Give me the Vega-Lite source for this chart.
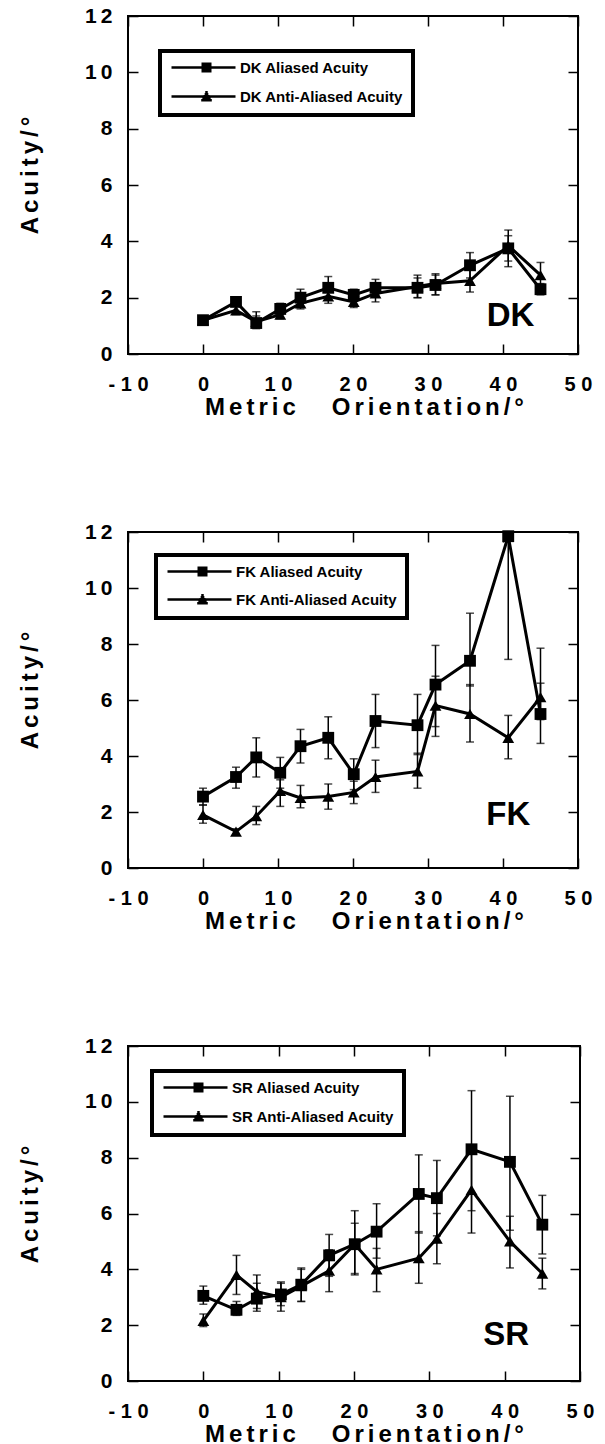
{
  "$schema": "https://vega.github.io/schema/vega-lite/v6.json",
  "padding": {"left": 17, "top": 4, "right": 5, "bottom": 0},
  "background": "white",
  "config": {
    "font": "Liberation Sans",
    "view": {"stroke": "black", "strokeWidth": 2},
    "axis": {"labelColor": "black", "titleColor": "black", "tickColor": "black", "grid": false},
    "legend": {"strokeWidth": 4, "strokeColor": "black"}
  },
  "datasets": {
    "DK": [
      {"series": "DK Aliased Acuity", "orientation": 0, "acuity": 1.2, "lo": 1.1, "hi": 1.3},
      {"series": "DK Aliased Acuity", "orientation": 4.4, "acuity": 1.85, "lo": 1.7, "hi": 2.0},
      {"series": "DK Aliased Acuity", "orientation": 7.1, "acuity": 1.1, "lo": 0.9, "hi": 1.5},
      {"series": "DK Aliased Acuity", "orientation": 10.3, "acuity": 1.6, "lo": 1.4, "hi": 1.8},
      {"series": "DK Aliased Acuity", "orientation": 13.0, "acuity": 2.0, "lo": 1.8, "hi": 2.3},
      {"series": "DK Aliased Acuity", "orientation": 16.7, "acuity": 2.35, "lo": 2.0, "hi": 2.75},
      {"series": "DK Aliased Acuity", "orientation": 20.1, "acuity": 2.1, "lo": 1.9, "hi": 2.3},
      {"series": "DK Aliased Acuity", "orientation": 23.0, "acuity": 2.35, "lo": 2.1, "hi": 2.65},
      {"series": "DK Aliased Acuity", "orientation": 28.6, "acuity": 2.35, "lo": 2.0, "hi": 2.8},
      {"series": "DK Aliased Acuity", "orientation": 31.0, "acuity": 2.45, "lo": 2.1, "hi": 2.85},
      {"series": "DK Aliased Acuity", "orientation": 35.6, "acuity": 3.15, "lo": 2.7, "hi": 3.6},
      {"series": "DK Aliased Acuity", "orientation": 40.7, "acuity": 3.75, "lo": 3.3, "hi": 4.4},
      {"series": "DK Aliased Acuity", "orientation": 45.0, "acuity": 2.3, "lo": 2.1, "hi": 2.5},
      {"series": "DK Anti-Aliased Acuity", "orientation": 0, "acuity": 1.2, "lo": 1.1, "hi": 1.3},
      {"series": "DK Anti-Aliased Acuity", "orientation": 4.4, "acuity": 1.55, "lo": 1.4, "hi": 1.7},
      {"series": "DK Anti-Aliased Acuity", "orientation": 7.1, "acuity": 1.15, "lo": 1.0, "hi": 1.35},
      {"series": "DK Anti-Aliased Acuity", "orientation": 10.3, "acuity": 1.4, "lo": 1.25, "hi": 1.6},
      {"series": "DK Anti-Aliased Acuity", "orientation": 13.0, "acuity": 1.8, "lo": 1.6, "hi": 2.0},
      {"series": "DK Anti-Aliased Acuity", "orientation": 16.7, "acuity": 2.05, "lo": 1.8, "hi": 2.35},
      {"series": "DK Anti-Aliased Acuity", "orientation": 20.1, "acuity": 1.85, "lo": 1.65, "hi": 2.05},
      {"series": "DK Anti-Aliased Acuity", "orientation": 23.0, "acuity": 2.15, "lo": 1.85, "hi": 2.5},
      {"series": "DK Anti-Aliased Acuity", "orientation": 28.6, "acuity": 2.4, "lo": 2.0, "hi": 2.7},
      {"series": "DK Anti-Aliased Acuity", "orientation": 31.0, "acuity": 2.5, "lo": 2.1, "hi": 2.8},
      {"series": "DK Anti-Aliased Acuity", "orientation": 35.6, "acuity": 2.6, "lo": 2.2, "hi": 3.0},
      {"series": "DK Anti-Aliased Acuity", "orientation": 40.7, "acuity": 3.85, "lo": 3.1, "hi": 4.2},
      {"series": "DK Anti-Aliased Acuity", "orientation": 45.0, "acuity": 2.8, "lo": 2.4, "hi": 3.25}
    ],
    "FK": [
      {"series": "FK Aliased Acuity", "orientation": 0, "acuity": 2.55, "lo": 2.25, "hi": 2.85},
      {"series": "FK Aliased Acuity", "orientation": 4.4, "acuity": 3.25, "lo": 2.85, "hi": 3.6},
      {"series": "FK Aliased Acuity", "orientation": 7.1, "acuity": 3.95, "lo": 3.25, "hi": 4.65},
      {"series": "FK Aliased Acuity", "orientation": 10.3, "acuity": 3.4, "lo": 2.85, "hi": 3.95},
      {"series": "FK Aliased Acuity", "orientation": 13.0, "acuity": 4.35, "lo": 3.75, "hi": 4.95},
      {"series": "FK Aliased Acuity", "orientation": 16.7, "acuity": 4.65, "lo": 3.9, "hi": 5.4},
      {"series": "FK Aliased Acuity", "orientation": 20.1, "acuity": 3.35, "lo": 2.8, "hi": 3.9},
      {"series": "FK Aliased Acuity", "orientation": 23.0, "acuity": 5.25, "lo": 4.3, "hi": 6.2},
      {"series": "FK Aliased Acuity", "orientation": 28.6, "acuity": 5.1, "lo": 4.05, "hi": 6.2},
      {"series": "FK Aliased Acuity", "orientation": 31.0, "acuity": 6.55, "lo": 4.7, "hi": 7.95},
      {"series": "FK Aliased Acuity", "orientation": 35.6, "acuity": 7.4, "lo": 6.5, "hi": 9.1},
      {"series": "FK Aliased Acuity", "orientation": 40.7, "acuity": 11.85, "lo": 7.45, "hi": 12.0},
      {"series": "FK Aliased Acuity", "orientation": 45.0, "acuity": 5.5, "lo": 4.45, "hi": 6.6},
      {"series": "FK Anti-Aliased Acuity", "orientation": 0, "acuity": 1.9, "lo": 1.6, "hi": 2.25},
      {"series": "FK Anti-Aliased Acuity", "orientation": 4.4, "acuity": 1.3, "lo": 1.2, "hi": 1.4},
      {"series": "FK Anti-Aliased Acuity", "orientation": 7.1, "acuity": 1.85, "lo": 1.55, "hi": 2.2},
      {"series": "FK Anti-Aliased Acuity", "orientation": 10.3, "acuity": 2.75, "lo": 2.2, "hi": 3.15},
      {"series": "FK Anti-Aliased Acuity", "orientation": 13.0, "acuity": 2.5, "lo": 2.15, "hi": 2.95},
      {"series": "FK Anti-Aliased Acuity", "orientation": 16.7, "acuity": 2.55, "lo": 2.1, "hi": 3.0},
      {"series": "FK Anti-Aliased Acuity", "orientation": 20.1, "acuity": 2.7, "lo": 2.3, "hi": 3.1},
      {"series": "FK Anti-Aliased Acuity", "orientation": 23.0, "acuity": 3.25, "lo": 2.7, "hi": 3.85},
      {"series": "FK Anti-Aliased Acuity", "orientation": 28.6, "acuity": 3.45, "lo": 2.85, "hi": 4.1},
      {"series": "FK Anti-Aliased Acuity", "orientation": 31.0, "acuity": 5.8, "lo": 5.05, "hi": 6.85},
      {"series": "FK Anti-Aliased Acuity", "orientation": 35.6, "acuity": 5.5, "lo": 4.5, "hi": 6.55},
      {"series": "FK Anti-Aliased Acuity", "orientation": 40.7, "acuity": 4.65, "lo": 3.9, "hi": 5.45},
      {"series": "FK Anti-Aliased Acuity", "orientation": 45.0, "acuity": 6.1, "lo": 5.3, "hi": 7.85}
    ],
    "SR": [
      {"series": "SR Aliased Acuity", "orientation": 0, "acuity": 3.05, "lo": 2.75, "hi": 3.4},
      {"series": "SR Aliased Acuity", "orientation": 4.4, "acuity": 2.55, "lo": 2.35, "hi": 2.85},
      {"series": "SR Aliased Acuity", "orientation": 7.1, "acuity": 2.95, "lo": 2.5, "hi": 3.5},
      {"series": "SR Aliased Acuity", "orientation": 10.3, "acuity": 3.1, "lo": 2.7, "hi": 3.55},
      {"series": "SR Aliased Acuity", "orientation": 13.0, "acuity": 3.45, "lo": 2.85, "hi": 4.05},
      {"series": "SR Aliased Acuity", "orientation": 16.7, "acuity": 4.5, "lo": 3.75, "hi": 5.25},
      {"series": "SR Aliased Acuity", "orientation": 20.1, "acuity": 4.9, "lo": 3.85, "hi": 6.1},
      {"series": "SR Aliased Acuity", "orientation": 23.0, "acuity": 5.35, "lo": 4.4, "hi": 6.35},
      {"series": "SR Aliased Acuity", "orientation": 28.6, "acuity": 6.7, "lo": 5.3, "hi": 8.1},
      {"series": "SR Aliased Acuity", "orientation": 31.0, "acuity": 6.55, "lo": 5.2, "hi": 7.9},
      {"series": "SR Aliased Acuity", "orientation": 35.6, "acuity": 8.3, "lo": 6.1, "hi": 10.4},
      {"series": "SR Aliased Acuity", "orientation": 40.7, "acuity": 7.85, "lo": 5.4, "hi": 10.2},
      {"series": "SR Aliased Acuity", "orientation": 45.0, "acuity": 5.6, "lo": 4.55, "hi": 6.65},
      {"series": "SR Anti-Aliased Acuity", "orientation": 0, "acuity": 2.15, "lo": 1.95, "hi": 2.4},
      {"series": "SR Anti-Aliased Acuity", "orientation": 4.4, "acuity": 3.8, "lo": 3.1, "hi": 4.5},
      {"series": "SR Anti-Aliased Acuity", "orientation": 7.1, "acuity": 3.2, "lo": 2.6, "hi": 3.8},
      {"series": "SR Anti-Aliased Acuity", "orientation": 10.3, "acuity": 3.0, "lo": 2.5, "hi": 3.5},
      {"series": "SR Anti-Aliased Acuity", "orientation": 13.0, "acuity": 3.4, "lo": 2.85, "hi": 4.0},
      {"series": "SR Anti-Aliased Acuity", "orientation": 16.7, "acuity": 3.95, "lo": 3.2, "hi": 4.7},
      {"series": "SR Anti-Aliased Acuity", "orientation": 20.1, "acuity": 4.9, "lo": 3.8, "hi": 5.65},
      {"series": "SR Anti-Aliased Acuity", "orientation": 23.0, "acuity": 4.0, "lo": 3.2, "hi": 4.75},
      {"series": "SR Anti-Aliased Acuity", "orientation": 28.6, "acuity": 4.4, "lo": 3.5, "hi": 5.35},
      {"series": "SR Anti-Aliased Acuity", "orientation": 31.0, "acuity": 5.1, "lo": 4.2, "hi": 6.0},
      {"series": "SR Anti-Aliased Acuity", "orientation": 35.6, "acuity": 6.85, "lo": 5.3, "hi": 8.4},
      {"series": "SR Anti-Aliased Acuity", "orientation": 40.7, "acuity": 5.0, "lo": 4.05, "hi": 5.9},
      {"series": "SR Anti-Aliased Acuity", "orientation": 45.0, "acuity": 3.85, "lo": 3.3, "hi": 4.4}
    ]
  },
  "spacing": 100,
  "resolve": {"scale": {"x": "independent", "y": "independent", "shape": "independent"}, "legend": {"shape": "independent"}},
  "vconcat": [
    {
      "width": 450, "height": 338,
      "data": {"name": "DK"},
      "resolve": {"axis": {"x": "independent", "y": "independent"}, "scale": {"shape": "independent"}, "legend": {"shape": "independent"}},
      "layer": [
        {"mark": {"type": "rule", "color": "black", "strokeWidth": 1.5},
         "encoding": {
           "x": {"field": "orientation", "type": "quantitative", "scale": {"domain": [-10, 50], "nice": false, "zero": false},
                 "axis": {"orient": "top", "values": [-10, 0, 10, 20, 30, 40, 50], "labels": false, "domain": false, "tickSize": -10, "tickWidth": 1.5, "title": null}},
           "y": {"field": "lo", "type": "quantitative", "scale": {"domain": [0, 12], "nice": false},
                 "axis": {"orient": "right", "values": [0, 2, 4, 6, 8, 10, 12], "labels": false, "domain": false, "tickSize": -10, "tickWidth": 1.5, "title": null}},
           "y2": {"field": "hi"}}},
        {"mark": {"type": "tick", "orient": "horizontal", "color": "black", "size": 8, "thickness": 1.5},
         "encoding": {
           "x": {"field": "orientation", "type": "quantitative", "scale": {"domain": [-10, 50], "nice": false, "zero": false}, "axis": null},
           "y": {"field": "lo", "type": "quantitative", "scale": {"domain": [0, 12], "nice": false}, "axis": null}}},
        {"mark": {"type": "tick", "orient": "horizontal", "color": "black", "size": 8, "thickness": 1.5},
         "encoding": {
           "x": {"field": "orientation", "type": "quantitative", "scale": {"domain": [-10, 50], "nice": false, "zero": false}, "axis": null},
           "y": {"field": "hi", "type": "quantitative", "scale": {"domain": [0, 12], "nice": false}, "axis": null}}},
        {"mark": {"type": "line", "color": "black", "strokeWidth": 3},
         "encoding": {
           "x": {"field": "orientation", "type": "quantitative", "scale": {"domain": [-10, 50], "nice": false, "zero": false},
                 "axis": {"orient": "bottom", "values": [-10, 0, 10, 20, 30, 40, 50], "domain": false, "tickSize": -10, "tickWidth": 1.5,
                          "labelFontSize": 20, "labelFontWeight": "bold", "labelPadding": 30, "labelFlush": false, "labelOverlap": false,
                          "labelExpr": "join(split('' + datum.value, ''), ' ')",
                          "title": "M\u2006e\u2006t\u2006r\u2006i\u2006c\u2003\u2002O\u2006r\u2006i\u2006e\u2006n\u2006t\u2006a\u2006t\u2006i\u2006o\u2006n\u2006/\u2006°", "titleFontSize": 24, "titleFontWeight": "bold", "titlePadding": 1, "titleX": 236}},
           "y": {"field": "acuity", "type": "quantitative", "scale": {"domain": [0, 12], "nice": false},
                 "axis": {"orient": "left", "values": [0, 2, 4, 6, 8, 10, 12], "domain": false, "tickSize": -10, "tickWidth": 1.5,
                          "labelFontSize": 21, "labelFontWeight": "bold", "labelPadding": 26,
                          "labelExpr": "join(split('' + datum.value, ''), '\u2009')",
                          "title": "A\u2006c\u2006u\u2006i\u2006t\u2006y\u2006/\u2006°", "titleFontSize": 24, "titleFontWeight": "bold", "titlePadding": 42, "titleY": 159}},
           "detail": {"field": "series", "type": "nominal"}}},
        {"mark": {"type": "point", "filled": true, "color": "black", "opacity": 1, "size": 140},
         "encoding": {
           "x": {"field": "orientation", "type": "quantitative", "scale": {"domain": [-10, 50], "nice": false, "zero": false}, "axis": null},
           "y": {"field": "acuity", "type": "quantitative", "scale": {"domain": [0, 12], "nice": false}, "axis": null},
           "shape": {"field": "series", "type": "nominal", "scale": {"range": ["square", "triangle-up"]}, "legend": null}}},
        {"transform": [{"filter": "datum.acuity < 0"}],
         "mark": {"type": "point", "filled": false, "color": "black", "strokeWidth": 2.5, "opacity": 1},
         "encoding": {
           "x": {"field": "orientation", "type": "quantitative", "scale": {"domain": [-10, 50], "nice": false, "zero": false}, "axis": null},
           "y": {"field": "acuity", "type": "quantitative", "scale": {"domain": [0, 12], "nice": false}, "axis": null},
           "shape": {"field": "series", "type": "nominal",
                     "scale": {"domain": ["DK Aliased Acuity", "DK Anti-Aliased Acuity"],
                               "range": ["M-1,0H11.8M5,-0.75H7M5,-0.25H7M5,0.25H7M5,0.75H7",
                                         "M-1,0H11.8M6,-1.1V-0.6M5.86,-0.85H6.14M5.63,-0.45H6.37M5.4,-0.05H6.6M5.17,0.35H6.83M4.94,0.75H7.06"]},
                     "legend": {"orient": "none", "legendX": 32, "legendY": 35, "title": null,
                                "labelFontSize": 15, "labelFontWeight": "bold", "labelColor": "black", "labelOffset": 56, "labelLimit": 0,
                                "symbolSize": 100, "symbolStrokeColor": "black", "symbolStrokeWidth": 2.5, "symbolOpacity": 1,
                                "rowPadding": 9, "padding": 9, "strokeColor": "black"}}}},
        {"data": {"values": [{"label": "DK"}]},
         "mark": {"type": "text", "fontSize": 33, "fontWeight": "bold", "color": "black", "align": "center", "baseline": "alphabetic"},
         "encoding": {
           "x": {"datum": 41, "type": "quantitative", "scale": {"domain": [-10, 50], "nice": false, "zero": false}, "axis": null},
           "y": {"datum": 1.0, "type": "quantitative", "scale": {"domain": [0, 12], "nice": false}, "axis": null},
           "text": {"field": "label", "type": "nominal"}}}
      ]
    },
    {
      "width": 450, "height": 336,
      "data": {"name": "FK"},
      "resolve": {"axis": {"x": "independent", "y": "independent"}, "scale": {"shape": "independent"}, "legend": {"shape": "independent"}},
      "layer": [
        {"mark": {"type": "rule", "color": "black", "strokeWidth": 1.5},
         "encoding": {
           "x": {"field": "orientation", "type": "quantitative", "scale": {"domain": [-10, 50], "nice": false, "zero": false},
                 "axis": {"orient": "top", "values": [-10, 0, 10, 20, 30, 40, 50], "labels": false, "domain": false, "tickSize": -10, "tickWidth": 1.5, "title": null}},
           "y": {"field": "lo", "type": "quantitative", "scale": {"domain": [0, 12], "nice": false},
                 "axis": {"orient": "right", "values": [0, 2, 4, 6, 8, 10, 12], "labels": false, "domain": false, "tickSize": -10, "tickWidth": 1.5, "title": null}},
           "y2": {"field": "hi"}}},
        {"mark": {"type": "tick", "orient": "horizontal", "color": "black", "size": 8, "thickness": 1.5},
         "encoding": {
           "x": {"field": "orientation", "type": "quantitative", "scale": {"domain": [-10, 50], "nice": false, "zero": false}, "axis": null},
           "y": {"field": "lo", "type": "quantitative", "scale": {"domain": [0, 12], "nice": false}, "axis": null}}},
        {"mark": {"type": "tick", "orient": "horizontal", "color": "black", "size": 8, "thickness": 1.5},
         "encoding": {
           "x": {"field": "orientation", "type": "quantitative", "scale": {"domain": [-10, 50], "nice": false, "zero": false}, "axis": null},
           "y": {"field": "hi", "type": "quantitative", "scale": {"domain": [0, 12], "nice": false}, "axis": null}}},
        {"mark": {"type": "line", "color": "black", "strokeWidth": 3},
         "encoding": {
           "x": {"field": "orientation", "type": "quantitative", "scale": {"domain": [-10, 50], "nice": false, "zero": false},
                 "axis": {"orient": "bottom", "values": [-10, 0, 10, 20, 30, 40, 50], "domain": false, "tickSize": -10, "tickWidth": 1.5,
                          "labelFontSize": 20, "labelFontWeight": "bold", "labelPadding": 30, "labelFlush": false, "labelOverlap": false,
                          "labelExpr": "join(split('' + datum.value, ''), ' ')",
                          "title": "M\u2006e\u2006t\u2006r\u2006i\u2006c\u2003\u2002O\u2006r\u2006i\u2006e\u2006n\u2006t\u2006a\u2006t\u2006i\u2006o\u2006n\u2006/\u2006°", "titleFontSize": 24, "titleFontWeight": "bold", "titlePadding": 1, "titleX": 236}},
           "y": {"field": "acuity", "type": "quantitative", "scale": {"domain": [0, 12], "nice": false},
                 "axis": {"orient": "left", "values": [0, 2, 4, 6, 8, 10, 12], "domain": false, "tickSize": -10, "tickWidth": 1.5,
                          "labelFontSize": 21, "labelFontWeight": "bold", "labelPadding": 26,
                          "labelExpr": "join(split('' + datum.value, ''), '\u2009')",
                          "title": "A\u2006c\u2006u\u2006i\u2006t\u2006y\u2006/\u2006°", "titleFontSize": 24, "titleFontWeight": "bold", "titlePadding": 42, "titleY": 158}},
           "detail": {"field": "series", "type": "nominal"}}},
        {"mark": {"type": "point", "filled": true, "color": "black", "opacity": 1, "size": 140},
         "encoding": {
           "x": {"field": "orientation", "type": "quantitative", "scale": {"domain": [-10, 50], "nice": false, "zero": false}, "axis": null},
           "y": {"field": "acuity", "type": "quantitative", "scale": {"domain": [0, 12], "nice": false}, "axis": null},
           "shape": {"field": "series", "type": "nominal", "scale": {"range": ["square", "triangle-up"]}, "legend": null}}},
        {"transform": [{"filter": "datum.acuity < 0"}],
         "mark": {"type": "point", "filled": false, "color": "black", "strokeWidth": 2.5, "opacity": 1},
         "encoding": {
           "x": {"field": "orientation", "type": "quantitative", "scale": {"domain": [-10, 50], "nice": false, "zero": false}, "axis": null},
           "y": {"field": "acuity", "type": "quantitative", "scale": {"domain": [0, 12], "nice": false}, "axis": null},
           "shape": {"field": "series", "type": "nominal",
                     "scale": {"domain": ["FK Aliased Acuity", "FK Anti-Aliased Acuity"],
                               "range": ["M-1,0H11.8M5,-0.75H7M5,-0.25H7M5,0.25H7M5,0.75H7",
                                         "M-1,0H11.8M6,-1.1V-0.6M5.86,-0.85H6.14M5.63,-0.45H6.37M5.4,-0.05H6.6M5.17,0.35H6.83M4.94,0.75H7.06"]},
                     "legend": {"orient": "none", "legendX": 28, "legendY": 23, "title": null,
                                "labelFontSize": 15, "labelFontWeight": "bold", "labelColor": "black", "labelOffset": 56, "labelLimit": 0,
                                "symbolSize": 100, "symbolStrokeColor": "black", "symbolStrokeWidth": 2.5, "symbolOpacity": 1,
                                "rowPadding": 8, "padding": 9, "strokeColor": "black"}}}},
        {"data": {"values": [{"label": "FK"}]},
         "mark": {"type": "text", "fontSize": 33, "fontWeight": "bold", "color": "black", "align": "center", "baseline": "alphabetic"},
         "encoding": {
           "x": {"datum": 40.7, "type": "quantitative", "scale": {"domain": [-10, 50], "nice": false, "zero": false}, "axis": null},
           "y": {"datum": 1.55, "type": "quantitative", "scale": {"domain": [0, 12], "nice": false}, "axis": null},
           "text": {"field": "label", "type": "nominal"}}}
      ]
    },
    {
      "width": 452, "height": 335,
      "data": {"name": "SR"},
      "resolve": {"axis": {"x": "independent", "y": "independent"}, "scale": {"shape": "independent"}, "legend": {"shape": "independent"}},
      "layer": [
        {"mark": {"type": "rule", "color": "black", "strokeWidth": 1.5},
         "encoding": {
           "x": {"field": "orientation", "type": "quantitative", "scale": {"domain": [-10, 50], "nice": false, "zero": false},
                 "axis": {"orient": "top", "values": [-10, 0, 10, 20, 30, 40, 50], "labels": false, "domain": false, "tickSize": -10, "tickWidth": 1.5, "title": null}},
           "y": {"field": "lo", "type": "quantitative", "scale": {"domain": [0, 12], "nice": false},
                 "axis": {"orient": "right", "values": [0, 2, 4, 6, 8, 10, 12], "labels": false, "domain": false, "tickSize": -10, "tickWidth": 1.5, "title": null}},
           "y2": {"field": "hi"}}},
        {"mark": {"type": "tick", "orient": "horizontal", "color": "black", "size": 8, "thickness": 1.5},
         "encoding": {
           "x": {"field": "orientation", "type": "quantitative", "scale": {"domain": [-10, 50], "nice": false, "zero": false}, "axis": null},
           "y": {"field": "lo", "type": "quantitative", "scale": {"domain": [0, 12], "nice": false}, "axis": null}}},
        {"mark": {"type": "tick", "orient": "horizontal", "color": "black", "size": 8, "thickness": 1.5},
         "encoding": {
           "x": {"field": "orientation", "type": "quantitative", "scale": {"domain": [-10, 50], "nice": false, "zero": false}, "axis": null},
           "y": {"field": "hi", "type": "quantitative", "scale": {"domain": [0, 12], "nice": false}, "axis": null}}},
        {"mark": {"type": "line", "color": "black", "strokeWidth": 3},
         "encoding": {
           "x": {"field": "orientation", "type": "quantitative", "scale": {"domain": [-10, 50], "nice": false, "zero": false},
                 "axis": {"orient": "bottom", "values": [-10, 0, 10, 20, 30, 40, 50], "domain": false, "tickSize": -10, "tickWidth": 1.5,
                          "labelFontSize": 20, "labelFontWeight": "bold", "labelPadding": 30, "labelFlush": false, "labelOverlap": false,
                          "labelExpr": "join(split('' + datum.value, ''), ' ')",
                          "title": "M\u2006e\u2006t\u2006r\u2006i\u2006c\u2003\u2002O\u2006r\u2006i\u2006e\u2006n\u2006t\u2006a\u2006t\u2006i\u2006o\u2006n\u2006/\u2006°", "titleFontSize": 24, "titleFontWeight": "bold", "titlePadding": 1, "titleX": 236}},
           "y": {"field": "acuity", "type": "quantitative", "scale": {"domain": [0, 12], "nice": false},
                 "axis": {"orient": "left", "values": [0, 2, 4, 6, 8, 10, 12], "domain": false, "tickSize": -10, "tickWidth": 1.5,
                          "labelFontSize": 21, "labelFontWeight": "bold", "labelPadding": 26,
                          "labelExpr": "join(split('' + datum.value, ''), '\u2009')",
                          "title": "A\u2006c\u2006u\u2006i\u2006t\u2006y\u2006/\u2006°", "titleFontSize": 24, "titleFontWeight": "bold", "titlePadding": 42, "titleY": 158}},
           "detail": {"field": "series", "type": "nominal"}}},
        {"mark": {"type": "point", "filled": true, "color": "black", "opacity": 1, "size": 140},
         "encoding": {
           "x": {"field": "orientation", "type": "quantitative", "scale": {"domain": [-10, 50], "nice": false, "zero": false}, "axis": null},
           "y": {"field": "acuity", "type": "quantitative", "scale": {"domain": [0, 12], "nice": false}, "axis": null},
           "shape": {"field": "series", "type": "nominal", "scale": {"range": ["square", "triangle-up"]}, "legend": null}}},
        {"transform": [{"filter": "datum.acuity < 0"}],
         "mark": {"type": "point", "filled": false, "color": "black", "strokeWidth": 2.5, "opacity": 1},
         "encoding": {
           "x": {"field": "orientation", "type": "quantitative", "scale": {"domain": [-10, 50], "nice": false, "zero": false}, "axis": null},
           "y": {"field": "acuity", "type": "quantitative", "scale": {"domain": [0, 12], "nice": false}, "axis": null},
           "shape": {"field": "series", "type": "nominal",
                     "scale": {"domain": ["SR Aliased Acuity", "SR Anti-Aliased Acuity"],
                               "range": ["M-1,0H11.8M5,-0.75H7M5,-0.25H7M5,0.25H7M5,0.75H7",
                                         "M-1,0H11.8M6,-1.1V-0.6M5.86,-0.85H6.14M5.63,-0.45H6.37M5.4,-0.05H6.6M5.17,0.35H6.83M4.94,0.75H7.06"]},
                     "legend": {"orient": "none", "legendX": 24, "legendY": 25, "title": null,
                                "labelFontSize": 15, "labelFontWeight": "bold", "labelColor": "black", "labelOffset": 56, "labelLimit": 0,
                                "symbolSize": 100, "symbolStrokeColor": "black", "symbolStrokeWidth": 2.5, "symbolOpacity": 1,
                                "rowPadding": 9, "padding": 9, "strokeColor": "black"}}}},
        {"data": {"values": [{"label": "SR"}]},
         "mark": {"type": "text", "fontSize": 33, "fontWeight": "bold", "color": "black", "align": "center", "baseline": "alphabetic"},
         "encoding": {
           "x": {"datum": 40.2, "type": "quantitative", "scale": {"domain": [-10, 50], "nice": false, "zero": false}, "axis": null},
           "y": {"datum": 1.3, "type": "quantitative", "scale": {"domain": [0, 12], "nice": false}, "axis": null},
           "text": {"field": "label", "type": "nominal"}}}
      ]
    }
  ]
}
